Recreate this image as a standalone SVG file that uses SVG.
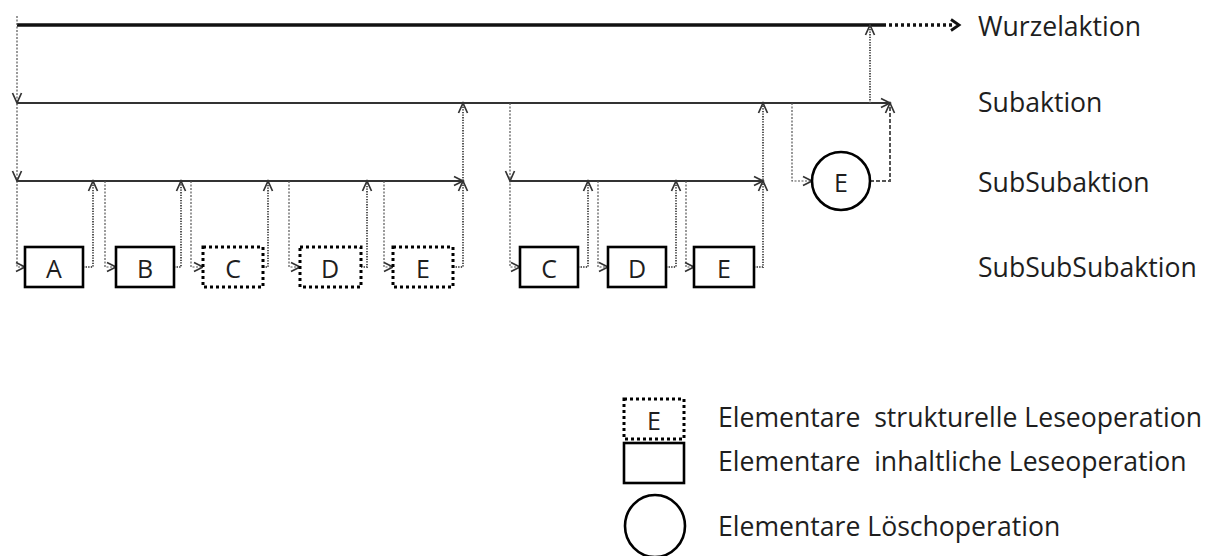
<svg xmlns="http://www.w3.org/2000/svg" xmlns:xlink="http://www.w3.org/1999/xlink" width="1213" height="556" viewBox="0 0 1213 556">
<style>
  text { font-family: "Open Sans", "Noto Sans", "Liberation Sans", sans-serif; fill: #1e1e1e; }
  .lbl { font-size: 26.6px; }
  .bl { font-size: 25px; text-anchor: middle; dominant-baseline: central; }
  .thick { stroke: #111; stroke-width: 3.5; fill: none; }
  .thickdot { stroke: #111; stroke-width: 3.5; fill: none; stroke-dasharray: 3 3; }
  .lvl { stroke: #333; stroke-width: 1.8; fill: none; }
  .up { stroke: #555; stroke-width: 2; fill: none; stroke-dasharray: 1.3 1.3; }
  .down { stroke: #555; stroke-width: 1.2; fill: none; stroke-dasharray: 2 1.5; }
  .dash { stroke: #555; stroke-width: 2; fill: none; stroke-dasharray: 4 2; }
  .box { fill: #fff; stroke: #000; stroke-width: 2.6; }
  .dbox { fill: #fff; stroke: #000; stroke-width: 3; stroke-dasharray: 3 3; }
  .circ { fill: #fff; stroke: #000; stroke-width: 2.6; }
  .ah { fill: none; stroke: #333; stroke-width: 1.7; stroke-linejoin: miter; }
  .ahb { fill: none; stroke: #111; stroke-width: 2.8; }
</style>
<defs>
  <path id="aUp" class="ah" d="M-4.5,10 L0,0 L4.5,10"/>
  <path id="aDown" class="ah" d="M-4.5,-10 L0,0 L4.5,-10"/>
  <path id="aRight" class="ah" d="M-9,-4.5 L0,0 L-9,4.5"/>
</defs>

<g id="connectors">
  <!-- Wurzelaktion line -->
  <line class="thick" x1="17" y1="25" x2="883" y2="25"/>
  <line class="thickdot" x1="883" y1="25" x2="955" y2="25"/>
  <path class="ahb" d="M951,19.5 L959,25 L951,30.5"/>
  <!-- Subaktion line -->
  <line class="lvl" x1="17" y1="103" x2="890" y2="103"/>
  <use xlink:href="#aRight" x="890" y="103"/>
  <!-- SubSubaktion lines -->
  <line class="lvl" x1="17" y1="181" x2="463" y2="181"/>
  <use xlink:href="#aRight" x="463" y="181"/>
  <line class="lvl" x1="510" y1="181" x2="763" y2="181"/>
  <use xlink:href="#aRight" x="763" y="181"/>

  <!-- left main descent -->
  <path class="down" d="M17,16 V267 H25"/>
  <use xlink:href="#aDown" x="17" y="103"/>
  <use xlink:href="#aDown" x="17" y="181"/>
  <use xlink:href="#aRight" x="25" y="267"/>

  <!-- group 1 -->
  <path class="up" d="M83,267 H93 V181"/>
  <use xlink:href="#aUp" x="93" y="181"/>
  <path class="down" d="M105,181 V267 H116"/>
  <use xlink:href="#aRight" x="116" y="267"/>
  <path class="up" d="M174,267 H181 V181"/>
  <use xlink:href="#aUp" x="181" y="181"/>
  <path class="down" d="M191,181 V267 H203"/>
  <use xlink:href="#aRight" x="203" y="267"/>
  <path class="up" d="M263,267 H268 V181"/>
  <use xlink:href="#aUp" x="268" y="181"/>
  <path class="down" d="M289,181 V267 H300"/>
  <use xlink:href="#aRight" x="300" y="267"/>
  <path class="up" d="M361,267 H367 V181"/>
  <use xlink:href="#aUp" x="367" y="181"/>
  <path class="down" d="M384,181 V267 H393"/>
  <use xlink:href="#aRight" x="393" y="267"/>
  <path class="up" d="M453,267 H463 V103"/>
  <use xlink:href="#aUp" x="463" y="181"/>
  <use xlink:href="#aUp" x="463" y="103"/>

  <!-- group 2 -->
  <path class="down" d="M510,103 V267 H520"/>
  <use xlink:href="#aDown" x="510" y="181"/>
  <use xlink:href="#aRight" x="520" y="267"/>
  <path class="up" d="M578,267 H588 V181"/>
  <use xlink:href="#aUp" x="588" y="181"/>
  <path class="down" d="M598,181 V267 H608"/>
  <use xlink:href="#aRight" x="608" y="267"/>
  <path class="up" d="M666,267 H676 V181"/>
  <use xlink:href="#aUp" x="676" y="181"/>
  <path class="down" d="M686,181 V267 H694"/>
  <use xlink:href="#aRight" x="694" y="267"/>
  <path class="up" d="M754,267 H763 V103"/>
  <use xlink:href="#aUp" x="763" y="181"/>
  <use xlink:href="#aUp" x="763" y="103"/>

  <!-- circle branch -->
  <path class="down" d="M792,103 V181 H812"/>
  <use xlink:href="#aRight" x="812" y="181"/>
  <path class="dash" d="M870,181 H890 V103"/>
  <use xlink:href="#aUp" x="890" y="103"/>

  <!-- Subaktion to Wurzel -->
  <path class="up" d="M870,103 V25"/>
  <use xlink:href="#aUp" x="870" y="25"/>
</g>

<g id="node-A"><rect class="box" x="25" y="247" width="58" height="40"/><text class="bl" x="54" y="268">A</text></g>
<g id="node-B"><rect class="box" x="116" y="247" width="58" height="40"/><text class="bl" x="145" y="268">B</text></g>
<g id="node-C1"><rect class="dbox" x="203" y="247" width="60" height="40"/><text class="bl" x="233" y="268">C</text></g>
<g id="node-D1"><rect class="dbox" x="300" y="247" width="61" height="40"/><text class="bl" x="330" y="268">D</text></g>
<g id="node-E1"><rect class="dbox" x="393" y="247" width="60" height="40"/><text class="bl" x="423" y="268">E</text></g>
<g id="node-C2"><rect class="box" x="520" y="247" width="58" height="40"/><text class="bl" x="549" y="268">C</text></g>
<g id="node-D2"><rect class="box" x="608" y="247" width="58" height="40"/><text class="bl" x="637" y="268">D</text></g>
<g id="node-E2"><rect class="box" x="694" y="247" width="60" height="40"/><text class="bl" x="724" y="268">E</text></g>
<g id="node-E3"><circle class="circ" cx="841" cy="181" r="29"/><text class="bl" x="841" y="182">E</text></g>

<g id="level-labels">
  <text class="lbl" x="978" y="36">Wurzelaktion</text>
  <text class="lbl" x="978" y="112">Subaktion</text>
  <text class="lbl" x="978" y="192">SubSubaktion</text>
  <text class="lbl" x="978" y="277">SubSubSubaktion</text>
</g>

<g id="legend">
  <g id="legend-struct"><rect class="dbox" x="624" y="399" width="60" height="40"/><text class="bl" x="654" y="420">E</text>
    <text class="lbl" x="718" y="427" xml:space="preserve">Elementare  strukturelle Leseoperation</text></g>
  <g id="legend-content"><rect class="box" x="624" y="443" width="60" height="40"/>
    <text class="lbl" x="718" y="471" xml:space="preserve">Elementare  inhaltliche Leseoperation</text></g>
  <g id="legend-delete"><ellipse class="circ" cx="655" cy="526" rx="30" ry="31"/>
    <text class="lbl" x="718" y="536">Elementare Löschoperation</text></g>
</g>
</svg>
